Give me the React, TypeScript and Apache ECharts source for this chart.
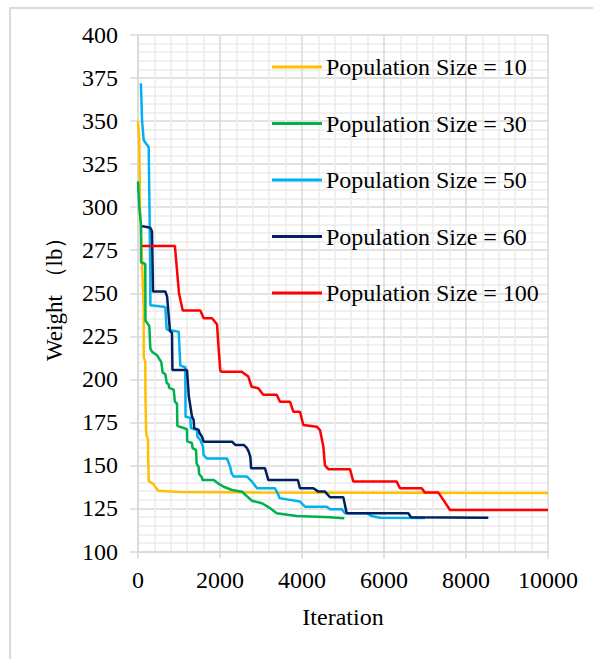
import React, { useEffect, useRef } from "react";
import * as echarts from "echarts";

const seriesNames = [
  "Population Size = 10",
  "Population Size = 30",
  "Population Size = 50",
  "Population Size = 60",
  "Population Size = 100",
];

const pop10: [number, number][] = [
  [0, 350], [30, 340], [50, 300], [100, 268], [139, 240], [140, 213], [178, 210],
  [182, 190], [200, 168], [244, 165], [248, 155], [262, 141], [383, 139], [488, 135.3],
  [1000, 134.6], [3000, 134.3], [10000, 134],
];

const pop30: [number, number][] = [
  [0, 315], [30, 300], [73, 290], [75, 268], [178, 267], [182, 234], [276, 231],
  [300, 218], [341, 216], [463, 214], [568, 210], [600, 204], [666, 203], [700, 198],
  [748, 197], [760, 195], [870, 194], [900, 187], [951, 186], [960, 173], [1073, 172],
  [1195, 171], [1200, 164], [1317, 163], [1330, 160], [1415, 159], [1430, 151],
  [1480, 149], [1490, 145], [1561, 143], [1570, 141.5], [1846, 141.5], [1951, 139.6],
  [2090, 137.6], [2293, 135.7], [2537, 134.7], [2659, 132], [2780, 129.5], [3024, 128],
  [3200, 125.5], [3383, 122.2], [3870, 120.6], [4683, 119.9], [5032, 119.3],
];

const pop50: [number, number][] = [
  [70, 372], [100, 350], [139, 339], [195, 337], [261, 335], [280, 300], [300, 260],
  [302, 243], [666, 242], [700, 229], [748, 228.7], [993, 227.7], [1032, 208],
  [1154, 207], [1160, 178.3], [1276, 177.6], [1290, 171.7], [1439, 170.6], [1450, 166.7],
  [1520, 164.8], [1585, 161], [1600, 156], [1683, 154], [2171, 154], [2251, 149],
  [2280, 145.5], [2334, 143.5], [2659, 143.5], [2780, 140.6], [2902, 136.7], [3341, 136.7],
  [3422, 133], [3450, 131], [3951, 129], [4073, 126], [4602, 126], [4683, 124.5],
  [4968, 124.5], [5049, 122.2], [5578, 122.2], [5700, 120.6], [5902, 119.6], [7000, 119.5],
];

const pop60: [number, number][] = [
  [100, 289], [300, 288], [341, 286], [366, 251], [666, 251], [710, 248], [780, 228],
  [829, 227], [840, 205.4], [1195, 205.4], [1240, 190], [1317, 178.3], [1358, 176.4],
  [1370, 171.7], [1480, 170.6], [1500, 168.8], [1561, 166.7], [1602, 163.8], [2293, 163.8],
  [2373, 161.9], [2578, 161.9], [2659, 160], [2700, 158], [2740, 155], [2760, 148.3],
  [3098, 148.3], [3180, 141.5], [3900, 141.5], [3950, 136.7], [4276, 136.7], [4398, 134.8],
  [4561, 134.8], [4683, 131.5], [5008, 131.5], [5090, 122.2], [6593, 122.2], [6658, 119.9],
  [8544, 119.6],
];

const pop100: [number, number][] = [
  [100, 277.5], [900, 277.5], [1000, 250], [1090, 240], [1520, 240], [1602, 235.5],
  [1805, 235.5], [1927, 232], [1960, 220], [2007, 205], [2041, 204.4], [2529, 204.4],
  [2690, 201.6], [2773, 195.7], [2934, 194.8], [3056, 191], [3383, 191], [3463, 187],
  [3707, 187], [3788, 181.2], [3951, 181.2], [4032, 173.5], [4358, 172.5], [4439, 170.5],
  [4520, 161], [4560, 150], [4642, 147.8], [5171, 147.8], [5252, 140.6], [6309, 140.6],
  [6390, 136.7], [6919, 136.7], [7000, 134.2], [7325, 134.2], [7447, 130], [7610, 124.1],
  [10000, 124.1],
];

const seriesData = [pop10, pop30, pop50, pop60, pop100];
const colors = ["#FFC000", "#00B050", "#00B0F0", "#002060", "#FF0000"];

const FONT = "Liberation Serif";

export default function App() {
  const ref = useRef<HTMLDivElement>(null);
  useEffect(() => {
    if (!ref.current) return;
    const chart = echarts.init(ref.current, undefined, { renderer: "svg" });
    chart.setOption({
      animation: false,
      backgroundColor: "#ffffff",
      textStyle: { fontFamily: FONT },
      graphic: [
        {
          type: "rect",
          shape: { x: 10, y: 8, width: 700, height: 700 },
          style: { fill: "none", stroke: "#d9d9d9", lineWidth: 2 },
          silent: true,
        },
      ],
      grid: { left: 138, right: 45, top: 35, bottom: 107.5, containLabel: false },
      legend: {
        orient: "vertical",
        left: 272,
        top: 55,
        padding: 0,
        itemWidth: 50,
        itemHeight: 3,
        itemGap: 32.5,
        icon: "rect",
        textStyle: { fontFamily: FONT, fontSize: 24, color: "#000", lineHeight: 24, padding: [0, 0, 0, -1] },
        data: seriesNames,
      },
      xAxis: {
        type: "value",
        min: 0,
        max: 10000,
        interval: 2000,
        name: "Iteration",
        nameLocation: "middle",
        nameGap: 53,
        nameTextStyle: { fontFamily: FONT, fontSize: 24, color: "#000" },
        axisLine: { show: true, lineStyle: { color: "#d9d9d9", width: 1.5 } },
        axisTick: { show: true, length: 7, lineStyle: { color: "#d9d9d9", width: 1.5 } },
        axisLabel: {
          fontFamily: FONT,
          fontSize: 24,
          color: "#000",
          margin: 16,
          formatter: (v: number) => String(v),
        },
        splitLine: { show: true, lineStyle: { color: "#d9d9d9", width: 1.5 } },
        minorTick: { show: false, splitNumber: 5 },
        minorSplitLine: { show: true, lineStyle: { color: "#ebebeb", width: 1.5 } },
      },
      yAxis: {
        type: "value",
        min: 100,
        max: 400,
        interval: 25,
        name: "Weight （lb）",
        nameLocation: "middle",
        nameGap: 72,
        nameTextStyle: { fontFamily: FONT, fontSize: 23, color: "#000" },
        axisLine: { show: true, lineStyle: { color: "#d9d9d9", width: 1.5 } },
        axisTick: { show: true, length: 8, lineStyle: { color: "#d9d9d9", width: 1.5 } },
        axisLabel: { fontFamily: FONT, fontSize: 24, color: "#000", margin: 20 },
        splitLine: { show: true, lineStyle: { color: "#d9d9d9", width: 1.5 } },
        minorTick: { show: false, splitNumber: 5 },
        minorSplitLine: { show: true, lineStyle: { color: "#ebebeb", width: 1.5 } },
      },
      series: seriesNames.map((name, i) => ({
        name,
        type: "line",
        data: seriesData[i],
        showSymbol: false,
        symbol: "none",
        lineStyle: { color: colors[i], width: 2.5 },
        itemStyle: { color: colors[i] },
        z: 2 + i,
      })),
    });
    return () => chart.dispose();
  }, []);
  return (
    <div
      ref={ref}
      style={{ position: "fixed", left: 0, top: 0, width: 593, height: 659 }}
    />
  );
}
